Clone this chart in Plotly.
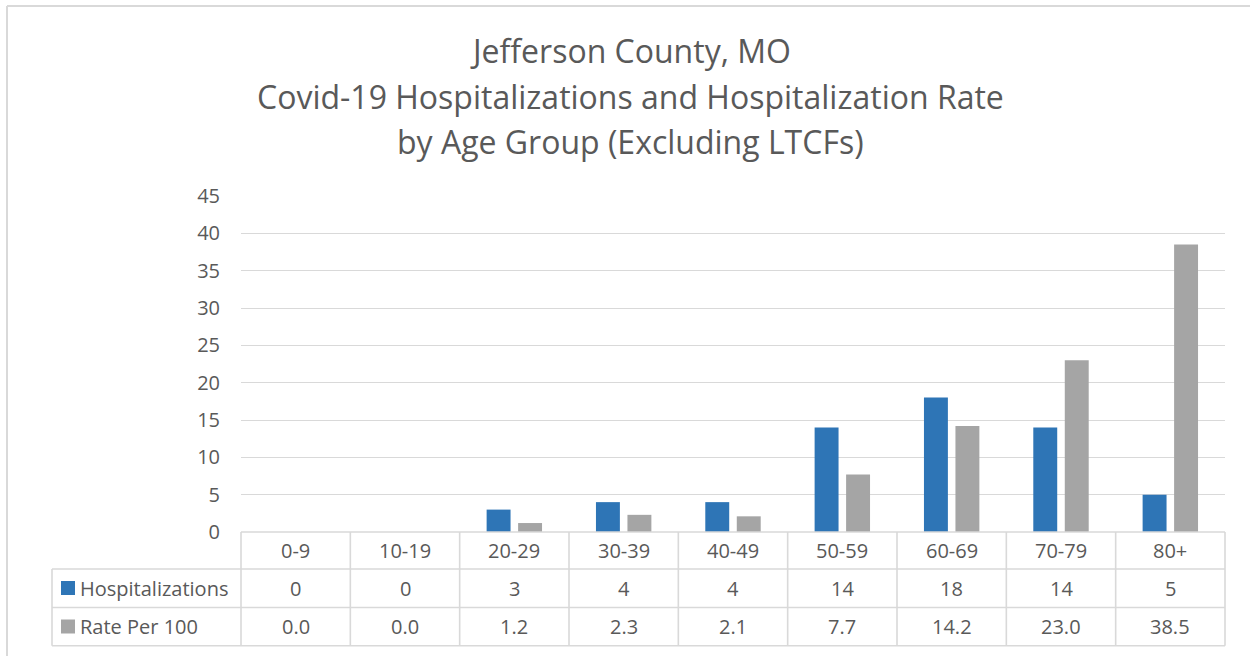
import plotly.graph_objects as go

age_groups = ["0-9", "10-19", "20-29", "30-39", "40-49", "50-59", "60-69", "70-79", "80+"]
hospitalizations = [0, 0, 3, 4, 4, 14, 18, 14, 5]
rate_per_100 = [0.0, 0.0, 1.2, 2.3, 2.1, 7.7, 14.2, 23.0, 38.5]
series_names = ["Hospitalizations", "Rate Per 100"]
title_lines = ["Jefferson County, MO",
               "Covid-19 Hospitalizations and Hospitalization Rate",
               "by Age Group (Excluding LTCFs)"]

BLUE = "#2E75B6"
GRAY = "#A5A5A5"
LINE = "#D9D9D9"
TXT = "#595959"
FONT = "Open Sans"
SMALL = 20

# pixel geometry of the plot area (1250x656 page)
L, R, T, B = 241, 1225, 196, 532
W, H = R - L, B - T


def px(xp):  # page pixel x -> paper x
    return (xp - L) / W


def py(yp):  # page pixel y -> paper y
    return (B - yp) / H


fig = go.Figure()
fig.add_trace(go.Bar(x=age_groups, y=hospitalizations, name=series_names[0],
                     marker=dict(color=BLUE, line=dict(width=0))))
fig.add_trace(go.Bar(x=age_groups, y=rate_per_100, name=series_names[1],
                     marker=dict(color=GRAY, line=dict(width=0))))

shapes = []
ann = []
n = len(age_groups)
row_lines = [569, 607.5, 645.7]
row_mid = [550.5, 588, 626.5]
lw = 1.6

# horizontal table lines
shapes.append(dict(type="line", xref="paper", yref="paper", x0=0, x1=1,
                   y0=py(B), y1=py(B), line=dict(color=LINE, width=lw)))
for yl in row_lines:
    shapes.append(dict(type="line", xref="paper", yref="paper", x0=px(52), x1=1,
                       y0=py(yl), y1=py(yl), line=dict(color=LINE, width=lw)))
# vertical table lines
for k in range(n + 1):
    shapes.append(dict(type="line", xref="paper", yref="paper", x0=k / n, x1=k / n,
                       y0=py(B), y1=py(row_lines[-1]), line=dict(color=LINE, width=lw)))
shapes.append(dict(type="line", xref="paper", yref="paper", x0=px(52), x1=px(52),
                   y0=py(row_lines[0]), y1=py(row_lines[-1]), line=dict(color=LINE, width=lw)))

# legend keys
for yc, col in zip(row_mid[1:], [BLUE, GRAY]):
    shapes.append(dict(type="rect", xref="paper", yref="paper", x0=px(61), x1=px(75),
                       y0=py(yc + 7), y1=py(yc - 7), fillcolor=col, line=dict(width=0)))
for yc, name in zip(row_mid[1:], series_names):
    ann.append(dict(text=name, xref="paper", yref="paper", x=px(78), y=py(yc),
                    xanchor="left", yanchor="middle", showarrow=False,
                    font=dict(family=FONT, size=SMALL, color=TXT)))

# table cells
for i, g in enumerate(age_groups):
    for yc, txt in zip(row_mid, [g, str(hospitalizations[i]), "%.1f" % rate_per_100[i]]):
        ann.append(dict(text=txt, xref="x", yref="paper", x=g, y=py(yc),
                        xanchor="center", yanchor="middle", showarrow=False,
                        font=dict(family=FONT, size=SMALL, color=TXT)))

# title
for yc, line in zip([50, 97, 142], title_lines):
    ann.append(dict(text=line, xref="paper", yref="paper", x=px(630), y=py(yc),
                    xanchor="center", yanchor="middle", showarrow=False,
                    font=dict(family=FONT, size=32, color=TXT)))

# chart outer border (top & left visible)
shapes.append(dict(type="line", xref="paper", yref="paper", x0=px(7), x1=px(7),
                   y0=py(6), y1=py(700), line=dict(color=LINE, width=2)))
shapes.append(dict(type="line", xref="paper", yref="paper", x0=px(7), x1=px(1300),
                   y0=py(6), y1=py(6), line=dict(color=LINE, width=2)))

fig.update_layout(
    width=1250, height=656,
    margin=dict(l=L, r=1250 - R, t=T, b=656 - B),
    paper_bgcolor="white", plot_bgcolor="white",
    barmode="group", bargap=0.424, bargroupgap=0.24,
    showlegend=False,
    font=dict(family=FONT, color=TXT, size=SMALL),
    xaxis=dict(range=[-0.5, n - 0.5], showticklabels=False, showgrid=False,
               zeroline=False, showline=False, ticks=""),
    yaxis=dict(range=[0, 45], dtick=5, showgrid=True, gridcolor=LINE, gridwidth=1.4,
               zeroline=False, showline=False, ticks="", ticklabelstandoff=20,
               tickfont=dict(family=FONT, size=SMALL, color=TXT)),
    shapes=shapes, annotations=ann,
)

# drop the page's default 8px body margin so the figure sits at (0, 0)
fig.write_html("out.html", config={"displayModeBar": False},
               post_script="document.body.style.margin='0';")
